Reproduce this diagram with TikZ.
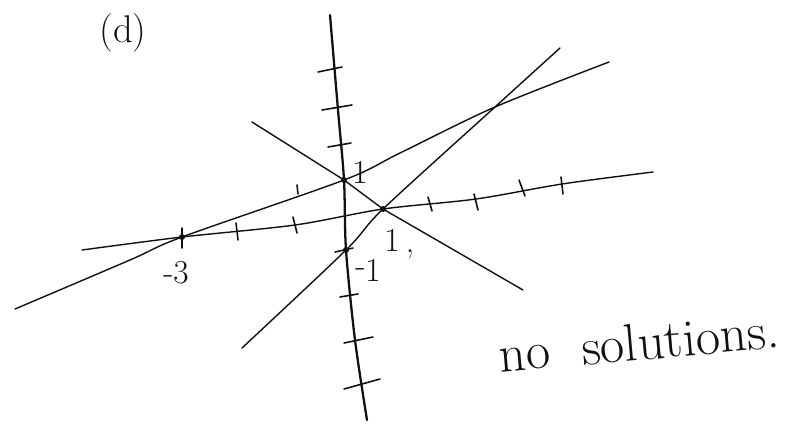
\documentclass[tikz,border=0pt]{standalone}
\usepackage{tikz}
\usetikzlibrary{calc}
\definecolor{ink}{HTML}{111111}
\tikzset{
  axisline/.style={draw=ink,line width=1.3pt,line cap=round},
  graphline/.style={draw=ink,line width=0.8pt,line cap=round},
  tickmark/.style={draw=ink,line width=0.9pt,line cap=round},
  meetdot/.style={fill=ink},
  handlabel/.style={font=\fontsize{19}{22}\selectfont,text=ink,inner sep=0pt}
}
\begin{document}
\begin{tikzpicture}[x=0.02cm,y=-0.02cm]
  \useasboundingbox (0,0) rectangle (809,434);
  % points where the lines meet the axes
  \coordinate (yone) at (344,180);
  \coordinate (xone) at (383,209);
  \coordinate (xmthree) at (182,237);
  \coordinate (ymone) at (346,250);
  \coordinate (cross) at (495,107);

  % y axis, a little bent
  \draw[axisline] plot[smooth] coordinates {(330,15) (338,110) (yone) (ymone) (355,340) (367,420)};
  % x axis
  \draw[graphline] plot[smooth] coordinates {(82,250) (xmthree) (295,225) (xone) (476,199) (562,184) (653,172)};

  % the three lines
  \draw[graphline] plot[smooth] coordinates {(15,309) (130,260) (xmthree) (yone) (400,153) (cross) (609,62)};
  \draw[graphline] (252,122) -- (yone) -- (xone) -- (523,290);
  \draw[graphline] plot[smooth] coordinates {(242,348) (ymone) (xone) (cross) (560,48)};

  % ticks
  \foreach \a/\b/\c/\d in {182/228/182/248,236/223/238/240,293/217/297/233,428/197/432/211,474/194/478/210,519/180/525/196,561/177/563/194} {
    \draw[tickmark] (\a,\b) -- (\c,\d);
  }
  \foreach \a/\b/\c/\d in {318/72/342/67,322/110/352/105,328/147/351/143,335/252/353/248,340/297/358/294,344/343/373/337,344/389/380/379} {
    \draw[tickmark] (\a,\b) -- (\c,\d);
  }
  \draw[tickmark] (297,185) -- (298,194);

  % dots where lines meet
  \foreach \p in {yone,xone,xmthree,ymone} {
    \fill[meetdot] (\p) circle[radius=3];
  }

  % labels
  \node[handlabel] (lyone) at (360,172) {1};
  \node[handlabel] (lxone) at (392,240) {1};
  \node[handlabel] (lcomma) at (410,254) {,};
  \node[handlabel] (lymone) at (368,270) {\raisebox{0.35ex}{-}1};
  \node[handlabel] (lxmthree) at (176,273) {-3};
  \node[font=\fontsize{22}{26}\selectfont,text=ink] (lpart) at (123,33) {(d)};
  \node[font=\fontsize{30}{34}\selectfont,text=ink,rotate=5] (lnosol) at (639,342) {no\hspace{0.6em}solutions.};
\end{tikzpicture}
\end{document}
